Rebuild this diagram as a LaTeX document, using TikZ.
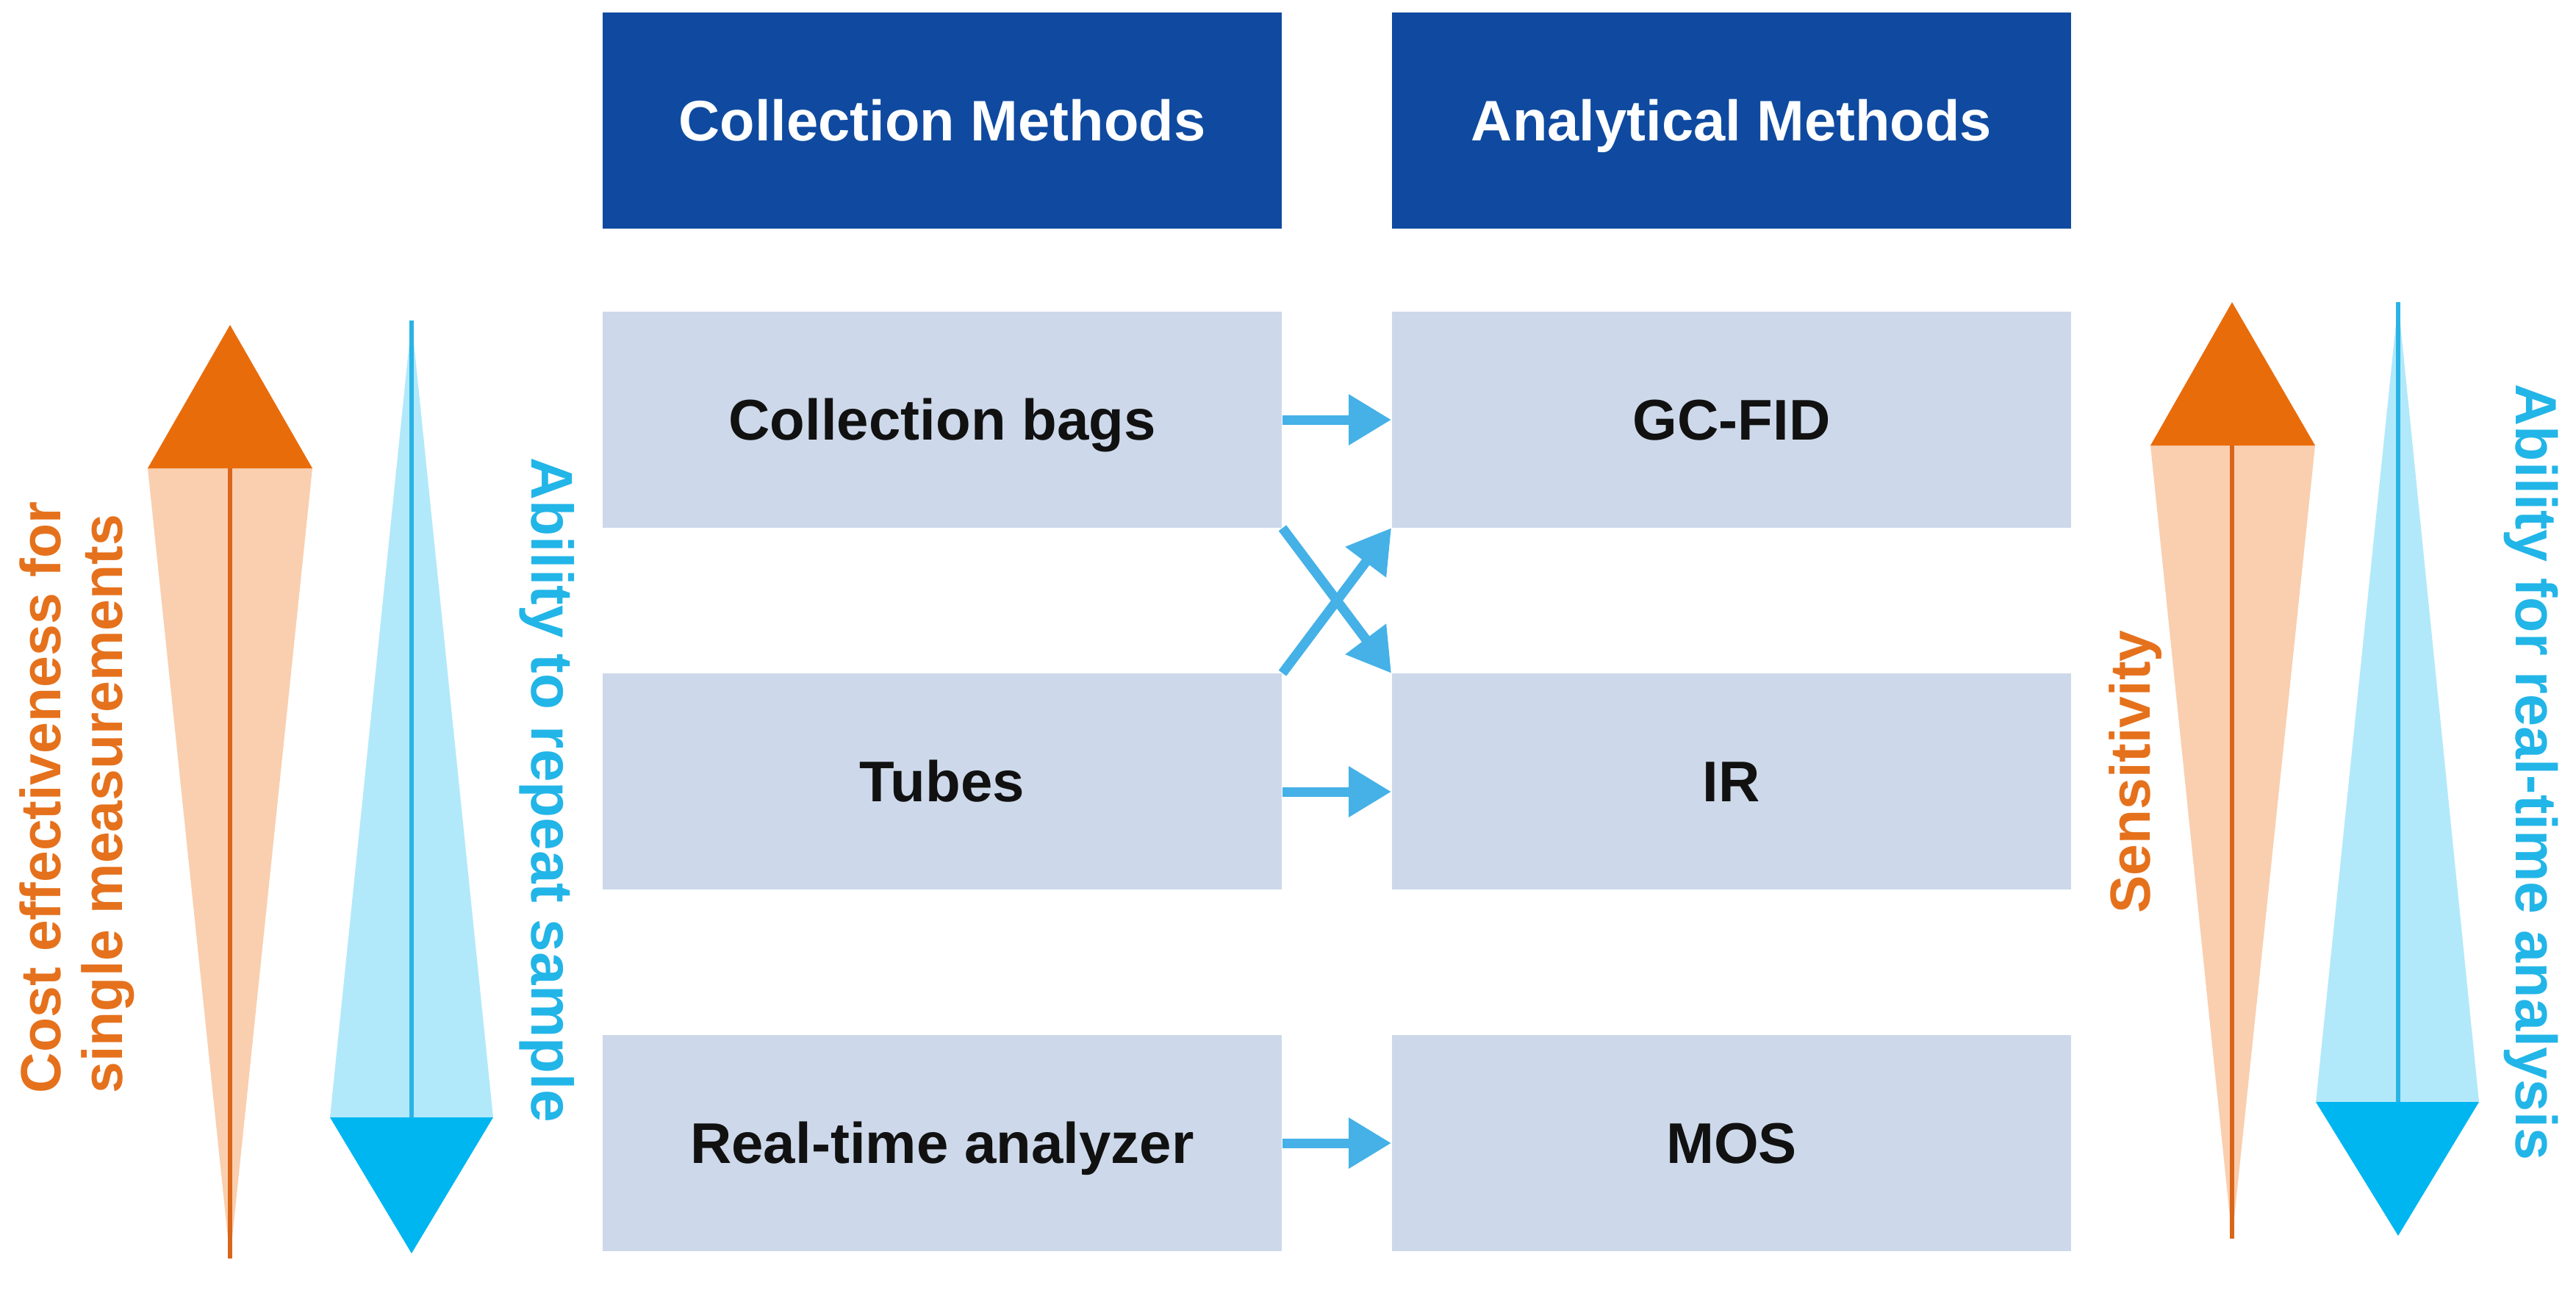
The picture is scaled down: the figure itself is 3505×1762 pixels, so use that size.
\documentclass[tikz,border=0pt]{standalone}
\usepackage{fontspec}
\setmainfont{Liberation Sans}
\usetikzlibrary{arrows.meta,calc}
\definecolor{hdrblue}{HTML}{0F4AA0}
\definecolor{cellblue}{HTML}{CDD9EA}
\definecolor{arrowblue}{HTML}{45B1E7}
\definecolor{textblack}{HTML}{111111}
\definecolor{orgdark}{HTML}{E96C0B}
\definecolor{orglight}{HTML}{F9CFAF}
\definecolor{orgline}{HTML}{D9661A}
\definecolor{orgtext}{HTML}{E5711C}
\definecolor{cyandark}{HTML}{00B6F0}
\definecolor{cyanlight}{HTML}{B2E9FA}
\definecolor{cyanline}{HTML}{2BB3E6}
\definecolor{cyantext}{HTML}{22B5E8}
\begin{document}
\begin{tikzpicture}[x=0.01cm,y=-0.01cm,
  hdr/.style={fill=hdrblue, text=white, minimum width=9.24cm, minimum height=2.93cm,
    inner sep=0pt, text height=15.9pt, text depth=0pt,
    font=\bfseries\fontsize{22.1pt}{26pt}\selectfont},
  cell/.style={fill=cellblue, text=textblack, minimum width=9.24cm, minimum height=2.93cm,
    inner sep=0pt, text height=15.9pt, text depth=0pt,
    font=\bfseries\fontsize{22.2pt}{26pt}\selectfont},
  flow/.style={draw=arrowblue, line width=3.7pt, -{Triangle[length=5.8mm,width=6.6mm]}},
  sidetxt/.style={inner sep=0pt, anchor=base west}
]
\useasboundingbox (0,0) rectangle (3505,1762);
\fill[white] (0,0) rectangle (3505,1762);

% headers
\node[hdr] (hc) at (1282,164) {Collection Methods};
\node[hdr] (ha) at (2356,164) {Analytical Methods};

% method boxes
\node[cell] (bags) at (1282,571) {Collection bags};
\node[cell] (tubes) at (1282,1063) {Tubes};
\node[cell] (rta) at (1282,1555) {Real-time analyzer};
\node[cell] (gc) at (2356,571) {GC-FID};
\node[cell] (ir) at (2356,1063) {IR};
\node[cell] (mos) at (2356,1555) {MOS};

% connectors
\draw[flow] (bags.east) -- (gc.west);
\draw[flow] ($(tubes.east)+(0,14)$) -- ($(ir.west)+(0,14)$);
\draw[flow] (rta.east) -- (mos.west);
\draw[flow] (bags.south east) -- (ir.north west);
\draw[flow] (tubes.north east) -- (gc.south west);

% left orange arrow
\fill[orglight] (201,637) -- (425,637) -- (313,1712) -- cycle;
\fill[orgdark] (201,637) -- (425,637) -- (313,442) -- cycle;
\draw[orgline, line width=1.7pt] (313,637) -- (313,1712);

% left cyan arrow
\fill[cyanlight] (449,1520) -- (671,1520) -- (560,436) -- cycle;
\fill[cyandark] (449,1520) -- (671,1520) -- (560,1705) -- cycle;
\draw[cyanline, line width=1.7pt] (560,436) -- (560,1520);

% right orange arrow
\fill[orglight] (2926,606) -- (3150,606) -- (3037,1685) -- cycle;
\fill[orgdark] (2926,606) -- (3150,606) -- (3037,411) -- cycle;
\draw[orgline, line width=1.7pt] (3037,606) -- (3037,1685);

% right cyan arrow
\fill[cyanlight] (3151,1499) -- (3373,1499) -- (3263,411) -- cycle;
\fill[cyandark] (3151,1499) -- (3373,1499) -- (3263,1681) -- cycle;
\draw[cyanline, line width=1.7pt] (3263,411) -- (3263,1499);

% side labels
\node[sidetxt, rotate=90, text=orgtext, font=\bfseries\fontsize{21.9pt}{26pt}\selectfont]
  (cost1) at (82,1488) {Cost effectiveness for};
\node[sidetxt, rotate=90, text=orgtext, font=\bfseries\fontsize{21.9pt}{26pt}\selectfont]
  (cost2) at (166,1488) {single measurements};
\node[sidetxt, rotate=-90, text=cyantext, font=\bfseries\fontsize{22.8pt}{26pt}\selectfont]
  (repeat) at (723,622) {Ability to repeat sample};
\node[inner sep=0pt, anchor=base, rotate=90, text=orgtext, font=\bfseries\fontsize{21.9pt}{26pt}\selectfont]
  (sens) at (2925,1050) {Sensitivity};
\node[sidetxt, rotate=-90, text=cyantext, font=\bfseries\fontsize{22.5pt}{26pt}\selectfont]
  (realtime) at (3423,522) {Ability for real-time analysis};
\end{tikzpicture}
\end{document}
